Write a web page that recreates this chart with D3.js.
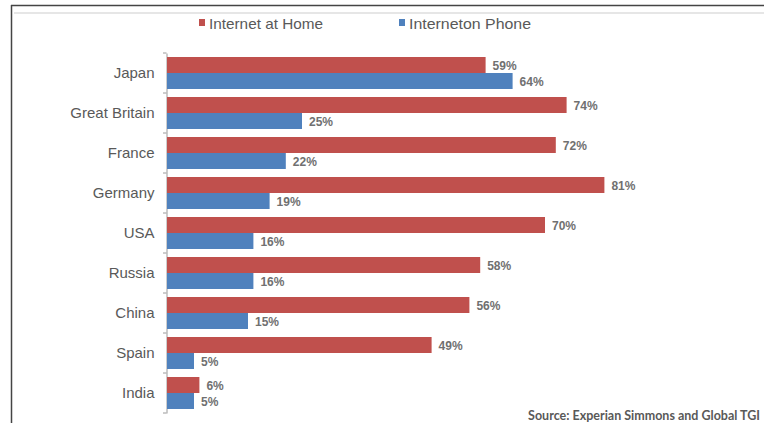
<!DOCTYPE html>
<html>
<head>
<meta charset="utf-8">
<script src="https://cdn.jsdelivr.net/npm/d3@7"></script>
<style>
  body { margin: 0; background: #fff; }
  text { font-family: "Liberation Sans", Arial, sans-serif; }
</style>
</head>
<body>
<div id="chart"></div>
<script>
// Data
const countries = ["Japan", "Great Britain", "France", "Germany", "USA", "Russia", "China", "Spain", "India"];
const homeValues = [59, 74, 72, 81, 70, 58, 56, 49, 6];
const phoneValues = [64, 25, 22, 19, 16, 16, 15, 5, 5];
const seriesNames = ["Internet at Home", "Interneton Phone"];
const seriesColors = ["#C0504D", "#4F81BD"];

let width = 764, height = 423;

let svg = d3.select("#chart")
            .append("svg")
            .attr("width", width)
            .attr("height", height);

// Frame lines
svg.append("line")
   .attr("x1", 11).attr("x2", width).attr("y1", 5.5).attr("y2", 5.5)
   .style("stroke", "#444").style("stroke-width", 1.5);
svg.append("line")
   .attr("x1", 11.5).attr("x2", 11.5).attr("y1", 5).attr("y2", height)
   .style("stroke", "#444").style("stroke-width", 1.5);
svg.append("line")
   .attr("x1", 14).attr("x2", width).attr("y1", 13).attr("y2", 13)
   .style("stroke", "#e6e6e6").style("stroke-width", 2);

// Scales
let x = d3.scaleLinear()
          .domain([0, 100])
          .range([167, 167 + 540]);

let y = d3.scaleBand()
          .domain(countries)
          .range([53, 413])
          .paddingInner(0.2)
          .paddingOuter(0.1);

let inner = d3.scaleBand()
              .domain([0, 1])
              .range([0, y.bandwidth()]);

// Axis
let axis = svg.append("g")
              .attr("transform", `translate(166.5, 0)`)
              .call(d3.axisLeft(y).tickSize(0).tickPadding(12));
axis.select(".domain").style("stroke", "#9a9a9a");
axis.selectAll("text")
    .style("font-size", "15px")
    .style("fill", "#595959")
    .style("font-family", "'Liberation Sans', Arial, sans-serif");

// Tick marks at category boundaries
let step = y.step();
let bounds = countries.map(c => y(c) - step * 0.1).concat([y(countries[countries.length - 1]) + y.bandwidth() + step * 0.1]);
svg.selectAll(".tickmark")
   .data(bounds)
   .enter()
   .append("line")
   .attr("x1", 163).attr("x2", 166.5)
   .attr("y1", d => d).attr("y2", d => d)
   .style("stroke", "#9a9a9a");

// Bars
let rows = countries.map((c, i) => ({country: c, vals: [homeValues[i], phoneValues[i]]}));

let groups = svg.selectAll(".grp")
                .data(rows)
                .enter()
                .append("g")
                .attr("transform", d => `translate(0, ${y(d.country)})`);

groups.selectAll("rect")
      .data(d => d.vals.map((v, k) => ({v, k})))
      .enter()
      .append("rect")
      .attr("x", x(0))
      .attr("y", d => inner(d.k))
      .attr("width", d => x(d.v) - x(0))
      .attr("height", inner.bandwidth())
      .attr("fill", d => seriesColors[d.k]);

groups.selectAll(".lbl")
      .data(d => d.vals.map((v, k) => ({v, k})))
      .enter()
      .append("text")
      .attr("x", d => x(d.v) + 7)
      .attr("y", d => inner(d.k) + inner.bandwidth() / 2 + 5)
      .style("font-size", "12px")
      .style("font-weight", "bold")
      .style("fill", "#707070")
      .text(d => d.v + "%");

// Legend
let legendX = [199, 399];
let legendLen = [114, 122];
seriesNames.forEach((name, i) => {
   svg.append("rect")
      .attr("x", legendX[i]).attr("y", 19)
      .attr("width", 6).attr("height", 7)
      .attr("fill", seriesColors[i]);
   svg.append("text")
      .attr("x", legendX[i] + 10).attr("y", 29)
      .attr("textLength", legendLen[i])
      .attr("lengthAdjust", "spacingAndGlyphs")
      .style("font-size", "15px")
      .style("fill", "#595959")
      .text(name);
});

// Source
svg.append("text")
   .attr("x", 760).attr("y", 420)
   .style("text-anchor", "end")
   .style("font-size", "12.5px")
   .style("font-weight", "bold")
   .style("fill", "#595959")
   .style("font-family", "Lato, 'Open Sans', sans-serif")
   .text("Source: Experian Simmons and Global TGI");
</script>
</body>
</html>
